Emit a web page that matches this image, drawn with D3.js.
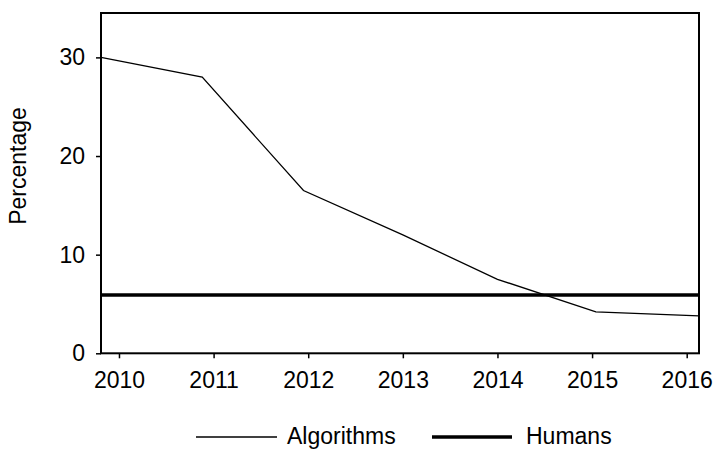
<!DOCTYPE html>
<html>
<head>
<meta charset="utf-8">
<script src="https://cdn.jsdelivr.net/npm/d3@7"></script>
<style>
  body { margin: 0; background: #fff; }
  text { font-family: "Liberation Sans", Arial, sans-serif; fill: #000; }
</style>
</head>
<body>
<div id="chart"></div>
<script>
// data
var years = [2009.81, 2010.88, 2011.95, 2013.0, 2014.0, 2015.04, 2016.13];
var algorithms = [30, 28, 16.5, 12, 7.5, 4.2, 3.8];
var humans = 5.9;
var yearTicks = [2010, 2011, 2012, 2013, 2014, 2015, 2016];
var pctTicks = [0, 10, 20, 30];

var svgWidth = 713;
var svgHeight = 449;

var margin = { top: 13, right: 14, bottom: 95.7, left: 101 };
var chartWidth = svgWidth - margin.left - margin.right;
var chartHeight = svgHeight - margin.top - margin.bottom;

var svg = d3.select("#chart").append("svg")
  .attr("width", svgWidth)
  .attr("height", svgHeight);

var chartGroup = svg.append("g")
  .attr("transform", `translate(${margin.left}, ${margin.top})`);

var xScale = d3.scaleLinear()
  .domain([2009.81, 2016.13])
  .range([0, chartWidth]);

var yScale = d3.scaleLinear()
  .domain([0, 34.5])
  .range([chartHeight, 0]);

var xAxis = d3.axisBottom(xScale)
  .tickValues(yearTicks)
  .tickFormat(d3.format("d"))
  .tickSize(5)
  .tickPadding(13);

var yAxis = d3.axisLeft(yScale)
  .tickValues(pctTicks)
  .tickSize(5)
  .tickPadding(11);

var gx = chartGroup.append("g")
  .attr("transform", `translate(0, ${chartHeight})`)
  .call(xAxis);
var gy = chartGroup.append("g")
  .call(yAxis);

[gx, gy].forEach(function(g) {
  g.select(".domain").remove();
  g.selectAll("line").attr("stroke", "#000").attr("stroke-width", 1.5);
  g.selectAll("text")
    .style("font-family", "'Liberation Sans', Arial, sans-serif")
    .style("font-size", "23px")
    .attr("fill", "#000");
});

// frame
chartGroup.append("rect")
  .attr("x", 0)
  .attr("y", 0)
  .attr("width", chartWidth)
  .attr("height", chartHeight)
  .attr("fill", "none")
  .attr("stroke", "#000")
  .attr("stroke-width", 2);

// humans reference line
chartGroup.append("line")
  .attr("x1", xScale(xScale.domain()[0]))
  .attr("x2", xScale(xScale.domain()[1]))
  .attr("y1", yScale(humans))
  .attr("y2", yScale(humans))
  .attr("stroke", "#000")
  .attr("stroke-width", 3.5);

// algorithms line
var line = d3.line()
  .x(function(d, i) { return xScale(years[i]); })
  .y(function(d) { return yScale(d); });

chartGroup.append("path")
  .datum(algorithms)
  .attr("d", line)
  .attr("fill", "none")
  .attr("stroke", "#000")
  .attr("stroke-width", 1.3);

// axis label
svg.append("text")
  .attr("transform", "translate(26, 166) rotate(-90)")
  .attr("text-anchor", "middle")
  .style("font-size", "23px")
  .text("Percentage");

// legend
var legend = svg.append("g");
legend.append("line")
  .attr("x1", 196).attr("x2", 277)
  .attr("y1", 437).attr("y2", 437)
  .attr("stroke", "#000").attr("stroke-width", 1.3);
legend.append("text")
  .attr("x", 287).attr("y", 443.5)
  .style("font-size", "23px")
  .text("Algorithms");
legend.append("line")
  .attr("x1", 432).attr("x2", 512)
  .attr("y1", 437).attr("y2", 437)
  .attr("stroke", "#000").attr("stroke-width", 3.5);
legend.append("text")
  .attr("x", 526).attr("y", 443.5)
  .style("font-size", "23px")
  .text("Humans");
</script>
</body>
</html>
